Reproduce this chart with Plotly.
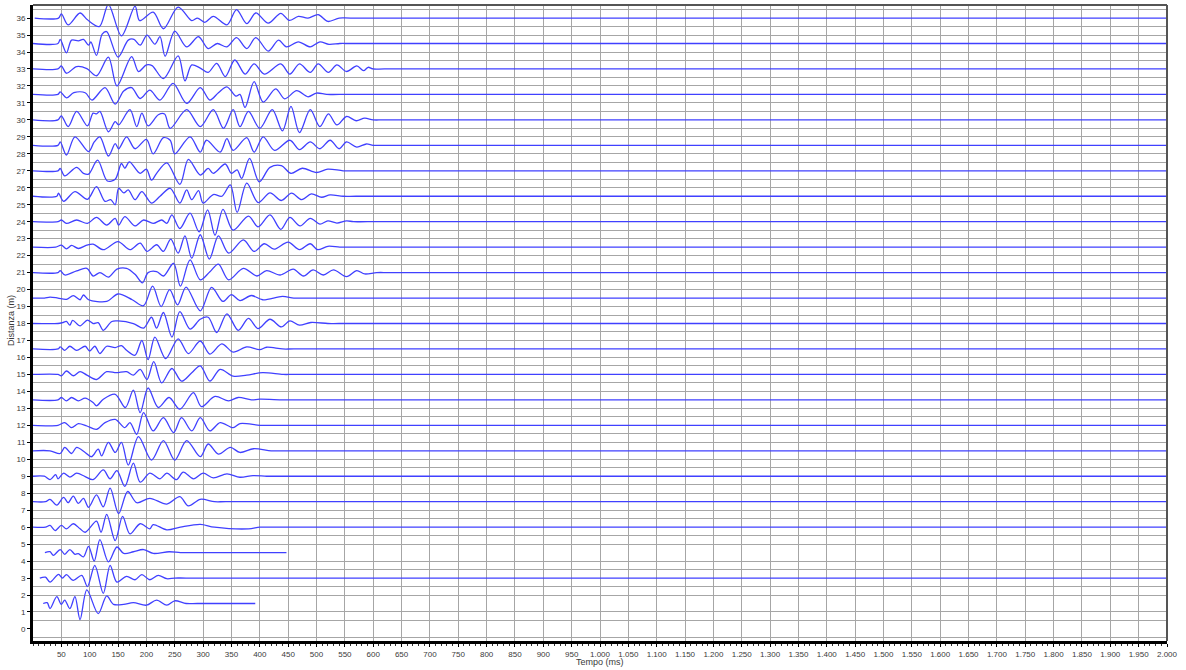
import plotly.graph_objects as go

# ---------------- data ----------------
# each trace: (tempo ms, amplitude in metres of offset from its baseline)
trace_36_0 = [(3,0),(45,0),(50,0.25),(62,-0.4),(83,0.3),(96,-0.1),(117,-0.5),(133,0.8),(156,-1.05),(180,0.7),(188,-0.15),(212,0.35),(230,-0.63),(256,0.65),(280,-0.15),(290,0.0),(303,-0.25),(318,0.1),(342,-0.4),(359,0.5),(377,-0.33),(393,0.3),(415,-0.3),(437,0.28),(452,-0.14),(468,0.1),(485,0.0),(503,0.2),(520,-0.2),(540,0),(560,0),(2000,0)]
trace_34_5 = [(0,0),(44,0),(48,0.24),(59,-0.55),(68,0.2),(80,0.16),(89,0.24),(98,-0.1),(102,0.1),(112,-0.7),(122,0.55),(130,0.7),(150,-0.8),(168,0.2),(178,0.25),(189,-0.1),(201,0.5),(215,-0.04),(224,0.4),(233,-0.75),(250,0.73),(271,-0.2),(292,0.4),(309,-0.3),(325,0.0),(342,-0.2),(359,0.35),(377,-0.3),(393,0.35),(415,-0.45),(433,0.2),(447,-0.2),(468,0.1),(489,-0.2),(506,0.1),(522,-0.05),(541,0),(560,0),(2000,0)]
trace_33_0 = [(0,0),(44,0),(50,0.18),(59,-0.25),(77,0.14),(95,0.02),(112,-0.4),(133,0.7),(148,-1.0),(174,0.73),(186,-0.15),(200,0.24),(210,0.2),(230,-0.57),(256,0.77),(268,-0.7),(280,0.24),(295,0.05),(309,-0.2),(324,0.33),(339,-0.45),(356,0.53),(374,-0.3),(390,0.3),(408,-0.3),(437,0.3),(453,-0.3),(470,0.3),(489,-0.2),(503,0.3),(521,-0.2),(536,0.24),(553,-0.15),(571,0.18),(583,-0.1),(591,0.1),(600,0),(620,0),(2000,0)]
trace_31_5 = [(0,0),(44,0),(48,0.15),(59,-0.2),(72,0.1),(92,0.1),(104,-0.33),(127,0.4),(145,-0.57),(160,0.2),(174,0.4),(189,-0.24),(206,0.25),(224,-0.33),(247,0.65),(271,-0.53),(295,0.4),(312,-0.33),(327,0.1),(342,0.45),(358,-0.1),(365,0.0),(374,-0.77),(390,0.75),(406,-0.45),(428,0.33),(444,-0.26),(465,0.22),(485,-0.14),(500,0.08),(518,0),(540,0),(2000,0)]
trace_30_0 = [(0,0),(44,0),(50,0.24),(62,-0.4),(77,0.5),(96,-0.35),(106,0.4),(112,0.35),(118,0.5),(133,-0.7),(145,-0.1),(151,-0.3),(171,0.6),(183,-0.4),(192,0.4),(203,-0.35),(221,0.3),(232,0.35),(242,-0.5),(271,0.6),(295,-0.4),(318,0.6),(336,-0.5),(353,0.6),(365,-0.4),(380,0.5),(400,-0.5),(422,0.6),(440,-0.65),(455,0.8),(470,-0.75),(489,0.6),(506,-0.4),(521,0.35),(536,-0.3),(553,0.2),(570,-0.05),(585,0.1),(600,0),(620,0),(2000,0)]
trace_28_5 = [(0,0),(44,0),(48,0.2),(59,-0.57),(74,0.5),(98,-0.37),(108,0.2),(118,0.5),(133,-0.63),(145,0.1),(151,-0.2),(165,0.5),(180,-0.2),(200,0.35),(212,-0.5),(230,0.45),(242,0.3),(250,-0.5),(277,0.5),(295,-0.4),(306,0.3),(330,-0.4),(342,0.4),(353,-0.3),(377,0.45),(390,-0.4),(406,0.5),(426,-0.3),(453,0.3),(470,-0.25),(489,0.2),(506,-0.2),(524,0.3),(540,-0.2),(553,0.2),(571,-0.1),(588,0.08),(600,0),(620,0),(2000,0)]
trace_27_0 = [(0,0),(44,0),(48,0.14),(56,-0.3),(77,0.2),(89,-0.15),(98,-0.2),(114,0.63),(131,-0.6),(145,-0.5),(156,0.43),(162,0.15),(170,0.53),(189,-0.15),(200,0.1),(209,-0.55),(218,-0.15),(236,0.47),(259,-0.8),(274,0.67),(295,-0.25),(309,0.14),(318,-0.15),(339,0.4),(350,-0.15),(360,0.05),(368,-0.45),(382,0.73),(399,-0.65),(418,0.2),(438,0.3),(455,-0.15),(475,0.15),(500,-0.1),(520,0.1),(547,0),(570,0),(2000,0)]
trace_25_5 = [(0,0),(42,0),(45,0.18),(54,-0.3),(74,0.27),(96,-0.18),(112,0.57),(127,-0.3),(137,-0.2),(145,-0.5),(151,0.47),(160,0.2),(168,0.37),(180,-0.2),(192,0.27),(209,-0.4),(224,0.0),(242,0.47),(259,-0.4),(271,0.37),(280,-0.2),(292,0.33),(300,-0.4),(318,0.1),(333,0.0),(348,0.67),(360,-0.95),(377,0.77),(397,-0.37),(418,0.2),(438,-0.25),(456,0.18),(474,-0.2),(491,0.14),(509,-0.06),(524,0.08),(547,0),(570,0),(2000,0)]
trace_24_0 = [(0,0),(44,0),(50,0.1),(59,-0.1),(77,0.1),(96,-0.1),(112,0.25),(130,-0.2),(145,0.2),(151,-0.2),(162,0.3),(180,-0.25),(195,0.1),(212,-0.1),(227,0.1),(236,-0.1),(245,0.4),(259,-0.4),(277,0.5),(293,-0.6),(308,0.7),(321,-0.8),(335,0.73),(353,-0.5),(380,0.33),(397,-0.3),(418,0.4),(437,-0.45),(453,0.25),(471,-0.25),(489,0.2),(506,-0.14),(520,0.05),(536,-0.08),(553,0.05),(565,0),(590,0),(2000,0)]
trace_22_5 = [(0,0),(40,0),(50,0.12),(59,-0.1),(68,0.1),(80,-0.08),(95,0.12),(106,0.18),(124,-0.15),(150,0.33),(171,-0.15),(189,0.24),(201,-0.25),(218,0.14),(230,-0.25),(243,0.47),(256,-0.35),(268,0.67),(280,-0.65),(295,0.73),(311,-0.7),(327,0.67),(345,-0.35),(371,0.43),(390,-0.25),(408,0.2),(425,-0.12),(450,0.3),(470,-0.15),(489,0.2),(502,-0.15),(520,0.05),(541,0),(560,0),(2000,0)]
trace_21_0 = [(0,0),(44,0),(48,0.12),(56,-0.14),(77,0.1),(95,0.25),(106,-0.2),(118,0.0),(133,-0.27),(148,0.2),(165,0.25),(180,-0.1),(193,-0.6),(203,0.0),(218,0.06),(230,-0.2),(248,0.55),(260,-0.8),(277,0.75),(295,-0.43),(312,0.05),(327,0.5),(345,-0.43),(371,0.25),(395,-0.2),(412,0.12),(436,-0.14),(459,0.2),(477,-0.2),(494,0.16),(512,-0.14),(530,0.16),(553,-0.24),(571,0.12),(585,-0.08),(606,0),(630,0),(2000,0)]
trace_19_5 = [(0,0),(20,0),(30,0.06),(44,0),(59,-0.08),(71,0.14),(83,-0.1),(89,0.18),(98,-0.1),(130,-0.2),(150,0.24),(175,-0.1),(195,-0.45),(211,0.7),(226,-0.5),(241,0.5),(255,-0.4),(270,0.65),(295,-0.75),(315,0.63),(335,-0.2),(350,0.2),(365,-0.15),(385,0.15),(405,-0.1),(440,0.1),(460,0),(480,0),(2000,0)]
trace_18_0 = [(0,0),(44,0),(52,0.05),(59,0.12),(65,-0.1),(70,0.18),(83,-0.14),(96,0.2),(106,0.0),(115,0.05),(124,-0.4),(139,0.12),(150,0.15),(177,0.0),(195,-0.27),(209,0.37),(218,-0.27),(230,0.65),(245,-0.8),(259,0.7),(277,-0.33),(295,0.25),(309,0.37),(324,-0.53),(342,0.57),(362,-0.4),(380,0.3),(397,-0.3),(418,0.25),(438,-0.2),(453,0.15),(470,-0.1),(490,0.06),(520,0),(540,0),(2000,0)]
trace_16_5 = [(0,0),(44,0),(48,0.12),(56,-0.08),(65,0.16),(77,-0.08),(92,0.16),(100,-0.12),(109,0.16),(118,-0.27),(130,0.16),(145,0.08),(156,0.2),(165,-0.08),(180,-0.37),(192,0.5),(203,-0.63),(215,0.7),(234,-0.57),(256,0.6),(274,-0.27),(295,0.47),(312,-0.3),(333,0.3),(353,-0.18),(377,0.12),(400,-0.04),(412,0.1),(440,0),(460,0),(2000,0)]
trace_15_0 = [(0,0),(44,0),(50,-0.08),(59,0.2),(71,-0.08),(83,0.16),(95,-0.04),(112,-0.3),(130,0.16),(147,0.1),(165,0.16),(177,-0.04),(189,0.3),(201,-0.3),(213,0.75),(227,-0.5),(245,0.35),(262,-0.4),(280,0.1),(295,0.5),(312,-0.4),(330,0.3),(353,-0.1),(377,-0.04),(405,0.1),(441,0),(460,0),(2000,0)]
trace_13_5 = [(0,0),(44,0),(50,0.14),(59,-0.06),(68,0.14),(80,-0.06),(92,0.1),(106,-0.16),(112,-0.35),(124,0.04),(145,0.33),(163,-0.45),(177,0.57),(189,-0.75),(203,0.7),(221,-0.45),(240,0.14),(259,-0.55),(283,0.43),(297,-0.4),(321,0.2),(345,-0.06),(362,0.14),(385,0.0),(400,0.04),(441,0),(460,0),(2000,0)]
trace_12_0 = [(0,0),(44,0),(56,0.16),(68,-0.14),(80,0.1),(95,-0.04),(112,-0.24),(127,0.16),(145,0.35),(162,-0.14),(171,0.16),(183,-0.53),(195,0.75),(212,-0.33),(230,0.45),(248,-0.43),(262,0.45),(280,-0.33),(295,0.45),(312,-0.33),(330,0.16),(353,-0.14),(365,0.1),(400,0),(420,0),(2000,0)]
trace_10_5 = [(0,0),(30,0),(48,-0.16),(56,0.2),(68,-0.16),(77,0.2),(92,-0.1),(103,-0.35),(115,0.1),(121,-0.3),(133,0.5),(145,-0.1),(156,0.5),(168,-0.84),(186,0.83),(209,-0.55),(230,0.6),(250,-0.55),(271,0.6),(295,-0.35),(309,0.4),(327,-0.2),(348,0.2),(365,-0.1),(389,0.12),(420,0),(440,0),(2000,0)]
trace_09_0 = [(0,0),(20,0),(30,-0.2),(40,0.1),(44,-0.15),(54,0.18),(65,-0.05),(77,0.18),(92,-0.02),(106,-0.2),(124,0.37),(136,-0.15),(148,0.33),(162,-0.6),(177,0.77),(189,-0.35),(206,0.18),(224,-0.15),(236,0.18),(253,-0.2),(265,0.24),(283,-0.15),(300,0.18),(318,-0.1),(342,0.14),(365,-0.06),(388,0.04),(412,0),(430,0),(2000,0)]
trace_07_5 = [(0,0),(22,0),(30,0.14),(42,-0.2),(54,0.25),(62,-0.06),(71,0.33),(80,-0.1),(89,0.2),(98,-0.33),(112,0.4),(124,-0.3),(136,0.8),(151,-0.7),(167,0.6),(183,-0.06),(206,0.2),(236,-0.14),(259,0.3),(274,-0.25),(295,0.14),(320,0),(340,0),(2000,0)]
trace_06_0 = [(0,0),(22,0),(30,0.1),(39,-0.2),(50,0.1),(59,-0.1),(71,0.2),(83,-0.1),(92,-0.3),(112,0.35),(120,-0.3),(130,0.75),(145,-0.8),(158,0.63),(171,-0.4),(189,0.2),(206,-0.1),(212,0.15),(236,-0.16),(260,0.0),(295,0.16),(320,0.0),(380,-0.1),(400,0),(420,0),(2000,0)]
trace_04_5 = [(21,0),(30,0.05),(36,-0.16),(48,0.18),(56,-0.1),(65,0.18),(74,-0.1),(80,-0.06),(89,-0.25),(98,0.37),(108,-0.5),(118,0.77),(133,-0.55),(148,0.33),(160,-0.05),(177,0.05),(195,0.18),(212,-0.05),(240,0.05),(260,0),(280,0),(447,0)]
trace_03_0 = [(12,0),(22,0.05),(30,-0.24),(45,0.22),(52,0.0),(59,0.2),(71,-0.14),(86,0.16),(96,-0.5),(109,0.75),(124,-0.9),(136,0.75),(148,-0.24),(165,0.1),(180,-0.1),(192,0.2),(206,-0.1),(221,0.16),(236,-0.04),(250,0),(270,0),(2000,0)]
trace_01_5 = [(18,0),(25,0.05),(30,-0.3),(42,0.4),(50,-0.05),(56,0.2),(65,-0.3),(74,0.4),(83,-0.95),(95,0.8),(115,-0.6),(130,0.45),(142,-0.05),(160,-0.05),(177,0.05),(200,-0.1),(218,0.2),(236,-0.1),(250,0.16),(270,0),(290,0),(392,0)]

distanze = [36, 34.5, 33, 31.5, 30, 28.5, 27, 25.5, 24, 22.5, 21, 19.5,
            18, 16.5, 15, 13.5, 12, 10.5, 9, 7.5, 6, 4.5, 3, 1.5]
tracce = [trace_36_0, trace_34_5, trace_33_0, trace_31_5, trace_30_0, trace_28_5,
          trace_27_0, trace_25_5, trace_24_0, trace_22_5, trace_21_0, trace_19_5,
          trace_18_0, trace_16_5, trace_15_0, trace_13_5, trace_12_0, trace_10_5,
          trace_09_0, trace_07_5, trace_06_0, trace_04_5, trace_03_0, trace_01_5]

x_ticks = list(range(50, 2001, 50))
x_labels = [f"{v:,}".replace(",", ".") for v in x_ticks]
y_ticks = list(range(0, 37))

# ---------------- figure ----------------
fig = go.Figure()
for d, tr in zip(distanze, tracce):
    xs = [p[0] for p in tr]
    ys = [d + p[1] for p in tr]
    fig.add_trace(go.Scatter(
        x=xs, y=ys, mode="lines",
        line=dict(color="#4040ff", width=1.3, shape="spline", smoothing=0.9),
        hoverinfo="skip", showlegend=False))

grid_y = []
for d in [0] + distanze:
    grid_y += [d - 0.5, d + 0.5]
grid_y = sorted(set(grid_y))

font_tick = dict(family="Liberation Sans, Arial, sans-serif", size=8, color="#3a3a3a")
font_title = dict(family="Liberation Sans, Arial, sans-serif", size=9, color="#3a3a3a")

fig.update_layout(
    width=1186, height=670,
    margin=dict(l=33, r=19, t=5, b=29),
    paper_bgcolor="white", plot_bgcolor="white",
    showlegend=False,
    font=font_tick,
    xaxis=dict(
        range=[0, 2000], tickmode="array", tickvals=x_ticks, ticktext=x_labels,
        showgrid=True, gridcolor="#a6a6a6", gridwidth=1,
        showline=True, linecolor="black", linewidth=3,
        ticks="outside", ticklen=3, tickcolor="black", tickfont=font_tick,
        minor=dict(dtick=10, ticks="outside", ticklen=2, tickcolor="#333333", showgrid=False),
        zeroline=False, automargin=False,
    ),
    yaxis=dict(
        range=[-0.71, 36.77], tickmode="array", tickvals=y_ticks,
        showgrid=False,
        showline=True, linecolor="black", linewidth=3,
        ticks="outside", ticklen=3, tickcolor="black", tickfont=font_tick,
        minor=dict(tickmode="array", tickvals=grid_y, showgrid=True,
                   gridcolor="#a6a6a6", gridwidth=1, ticks=""),
        zeroline=False, automargin=False,
    ),
    shapes=[
        dict(type="line", xref="paper", yref="paper", x0=0, x1=1, y0=1, y1=1,
             line=dict(color="#555555", width=2)),
        dict(type="line", xref="paper", yref="paper", x0=1, x1=1, y0=0, y1=1,
             line=dict(color="#555555", width=2)),
    ],
    annotations=[
        dict(text="Tempo (ms)", xref="paper", yref="paper", x=0.5, y=-0.033,
             xanchor="center", yanchor="middle", showarrow=False, font=font_title),
        dict(text="Distanza (m)", xref="paper", yref="paper", x=-0.0194, y=0.503,
             xanchor="center", yanchor="middle", textangle=-90, showarrow=False, font=font_title),
    ],
)

fig.write_html("out.html", config={"displayModeBar": False},
               post_script="document.body.style.margin='0px';document.body.style.overflow='hidden';")
